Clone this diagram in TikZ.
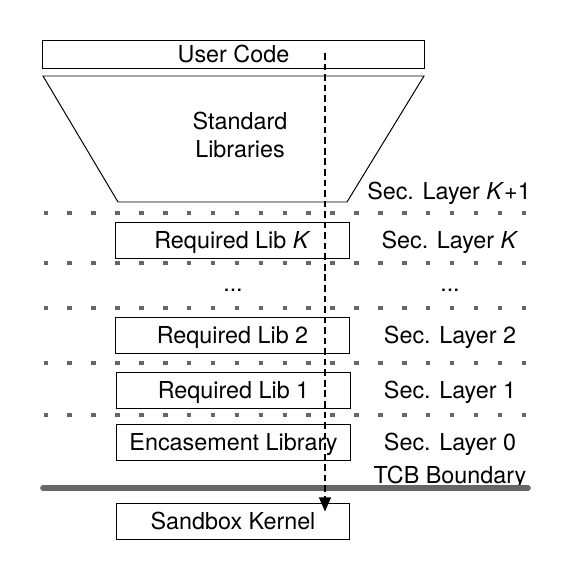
\documentclass[tikz,border=0pt]{standalone}
\usepackage{fontspec}
\setmainfont{TeX Gyre Heros}
\usetikzlibrary{arrows.meta}

\begin{document}
\begin{tikzpicture}[x=0.025cm,y=-0.025cm,>={Triangle[length=10pt,width=8.5pt]},
        every node/.style={font=\fontsize{16.6}{19.9}\selectfont,inner sep=0pt},
        lbl/.style={text height=11.9pt,text depth=0pt},
        libbox/.style={lbl,draw,line width=.7pt,minimum width=5.825cm,minimum height=.9cm},
        seclayer/.style={line width=3.2pt,black!60,dash pattern=on 3.2pt off 13.8pt},
        flow/.style={->,line width=1pt,dash pattern=on 4.7pt off 2.8pt}]
        \useasboundingbox (0,0) rectangle (570,573);

        \node[libbox,minimum width=9.525cm,minimum height=.7cm] (usercode) at (233.5,54) {User Code};
        \draw[line width=.7pt] (43,76)--(424,76)--(347,202)--(118,202)--cycle;
        \node[align=center] (stdlib) at (240,135) {Standard\\Libraries};

        \foreach \y in {213,263,308,363,415}
        {
            \draw[seclayer] (43.5,\y)--(530,\y);
        }

        \node[libbox] (libk) at (232.5,240) {Required Lib \textit{K}};
        \node[lbl,anchor=base] (dotsl) at (233,291) {...};
        \node[libbox] (lib2) at (232.5,335) {Required Lib 2};
        \node[libbox] (lib1) at (233.5,390) {Required Lib 1};
        \node[libbox] (encase) at (233.5,442.5) {Encasement Library};
        \node[libbox] (kernel) at (233,521) {Sandbox Kernel};

        \node[lbl] (layerk1) at (449,191) {Sec. Layer \textit{K}+1};
        \node[lbl] (layerk) at (450,240) {Sec. Layer \textit{K}};
        \node[lbl,anchor=base] (dotsr) at (450,291) {...};
        \node[lbl] (layer2) at (450,335) {Sec. Layer 2};
        \node[lbl] (layer1) at (450,390) {Sec. Layer 1};
        \node[lbl] (layer0) at (450,442) {Sec. Layer 0};
        \node[lbl] (tcb) at (450,475) {TCB Boundary};

        \draw[line width=4pt,black!60,line cap=round] (43,488)--(528,488);    % TCB

        \coordinate (src) at (325,53);
        \draw[flow] (src)--([yshift=-0.225cm]src |- kernel.north);
\end{tikzpicture}
\end{document}
